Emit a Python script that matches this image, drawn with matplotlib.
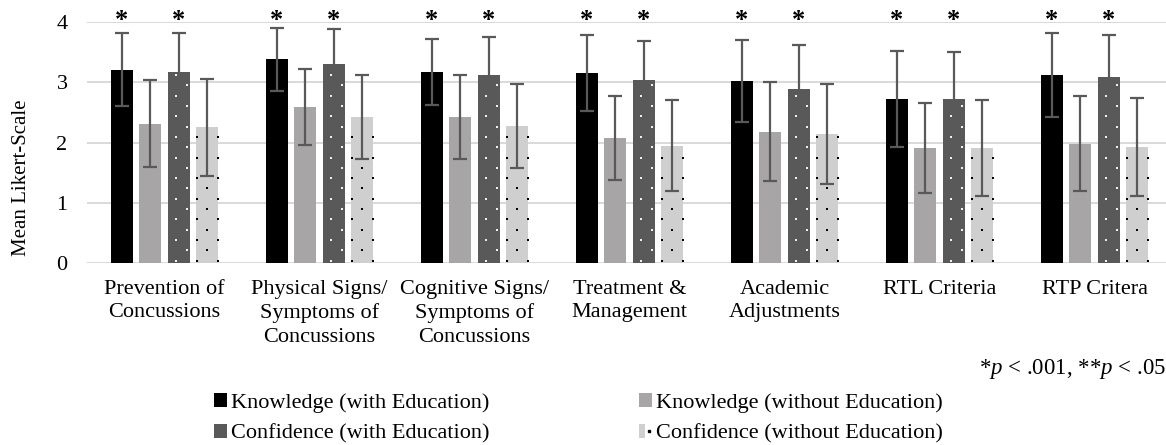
import numpy as np
import matplotlib
matplotlib.use("Agg")
import matplotlib.pyplot as plt
from matplotlib.patches import Patch
from matplotlib.lines import Line2D
from matplotlib.legend_handler import HandlerTuple

plt.rcParams['font.family'] = ['Liberation Serif', 'DejaVu Serif']
plt.rcParams['mathtext.fontset'] = 'custom'
plt.rcParams['mathtext.rm'] = 'Liberation Serif'
plt.rcParams['mathtext.it'] = 'Liberation Serif:italic'

# ---------------------------------------------
# Data: mean Likert score and SD per topic
topics = ["Prevention of\nConcussions",
          "Physical Signs/\nSymptoms of\nConcussions",
          "Cognitive Signs/\nSymptoms of\nConcussions",
          "Treatment &\nManagement",
          "Academic\nAdjustments",
          "RTL Criteria",
          "RTP Critera"]

know_edu = [3.21, 3.38, 3.17, 3.15, 3.02, 2.72, 3.12]
know_edu_sd = [0.60, 0.52, 0.54, 0.63, 0.68, 0.80, 0.69]
know_noedu = [2.31, 2.59, 2.42, 2.07, 2.18, 1.91, 1.98]
know_noedu_sd = [0.72, 0.63, 0.70, 0.70, 0.82, 0.74, 0.79]
conf_edu = [3.17, 3.31, 3.12, 3.03, 2.88, 2.72, 3.09]
conf_edu_sd = [0.64, 0.57, 0.63, 0.65, 0.74, 0.79, 0.70]
conf_noedu = [2.25, 2.42, 2.27, 1.95, 2.14, 1.91, 1.93]
conf_noedu_sd = [0.80, 0.70, 0.70, 0.76, 0.83, 0.80, 0.81]

series_names = ["Knowledge (with Education)", "Knowledge (without Education)",
                "Confidence (with Education)", "Confidence (without Education)"]
# significance marks over the "with education" bars (series 0 and 2)
sig_marks = {0: ["*"] * 7, 2: ["*"] * 7}

# ---------------------------------------------
# Styling
colors = ["#000000", "#a7a5a5", "#595959", "#cfcfcf"]
dot_colors = [None, None, "#f0f0f0", "#000000"]
err_color = "#595959"
bar_w = 0.142
step = 0.184
fs = 16

W, H = 1166, 445
fig = plt.figure(figsize=(W / 100, H / 100), dpi=100)
ax = fig.add_axes([87 / W, 182 / H, 1085 / W, 241 / H])
ax.set_xlim(-0.5, 6.5)
ax.set_ylim(0, 4)

x = np.arange(len(topics))
means = [know_edu, know_noedu, conf_edu, conf_noedu]
sds = [know_edu_sd, know_noedu_sd, conf_edu_sd, conf_noedu_sd]

# dot texture spacing in data units (about 10 px apart vertically)
px_y = 4 / 241
row_gap = 10.3 * px_y

for i, (m, sd) in enumerate(zip(means, sds)):
    xs = x + (i - 1.5) * step
    bars = ax.bar(xs, m, width=bar_w, color=colors[i], zorder=2)
    ax.errorbar(xs, m, yerr=sd, fmt='none', ecolor=err_color, elinewidth=1.6,
                capsize=5, capthick=1.6, zorder=4)
    if dot_colors[i] is not None:
        # staggered dot fill inside each bar
        if i == 2:
            cols_a, cols_b = [0.38], [0.86]
        else:
            cols_a, cols_b = [0.03, 0.97], [0.5]
        px_all, py_all = [], []
        for b in bars:
            left, wdt, top = b.get_x(), b.get_width(), b.get_height()
            ys = np.arange(0.04, top - 0.03, row_gap)
            for k, yy in enumerate(ys):
                for c in (cols_a if k % 2 == 0 else cols_b):
                    px_all.append(left + c * wdt)
                    py_all.append(yy)
        ax.scatter(px_all, py_all, s=3.5, marker='s', color=dot_colors[i],
                   linewidths=0, zorder=3)
    if i in sig_marks:
        for xx, mark in zip(xs, sig_marks[i]):
            ax.text(xx, 3.84, mark, ha='center', va='bottom', fontsize=19,
                    fontweight='bold', clip_on=False)

# grid and axes
ax.set_yticks([0, 1, 2, 3, 4])
ax.yaxis.grid(True, color="#d9d9d9", linewidth=1.4, zorder=0)
ax.set_axisbelow(True)
for s in ax.spines.values():
    s.set_visible(False)
ax.tick_params(axis='y', length=0, pad=14, labelsize=fs)
ax.set_xticks(x)
ax.set_xticklabels(topics, fontsize=fs, linespacing=1.32)
ax.tick_params(axis='x', length=0, pad=12)
ax.set_ylabel("Mean Likert-Scale", fontsize=15)
ax.yaxis.set_label_coords(-0.0515, 0.353)

# significance note
fig.text(1166 / W, 1 - 369 / H, r"*$p$ < .001, **$p$ < .05", ha='right',
         va='center', fontsize=16.5)

# legend
handles = [Patch(facecolor=colors[0]),
           Patch(facecolor=colors[2]),
           Patch(facecolor=colors[1]),
           (Patch(facecolor=colors[3]),
            Line2D([], [], marker='s', ms=1.8, color='black', ls='none'))]
labels = [series_names[0], series_names[2], series_names[1], series_names[3]]
fig.legend(handles, labels, ncol=2, loc='upper left',
           bbox_to_anchor=(214 / W, 1 - 393 / H), frameon=False,
           fontsize=fs, handlelength=0.6, handleheight=0.6,
           handletextpad=0.17, columnspacing=6.7, labelspacing=0.5,
           borderpad=0, borderaxespad=0,
           handler_map={tuple: HandlerTuple(ndivide=None)})

fig.savefig("out.png", dpi=100)
